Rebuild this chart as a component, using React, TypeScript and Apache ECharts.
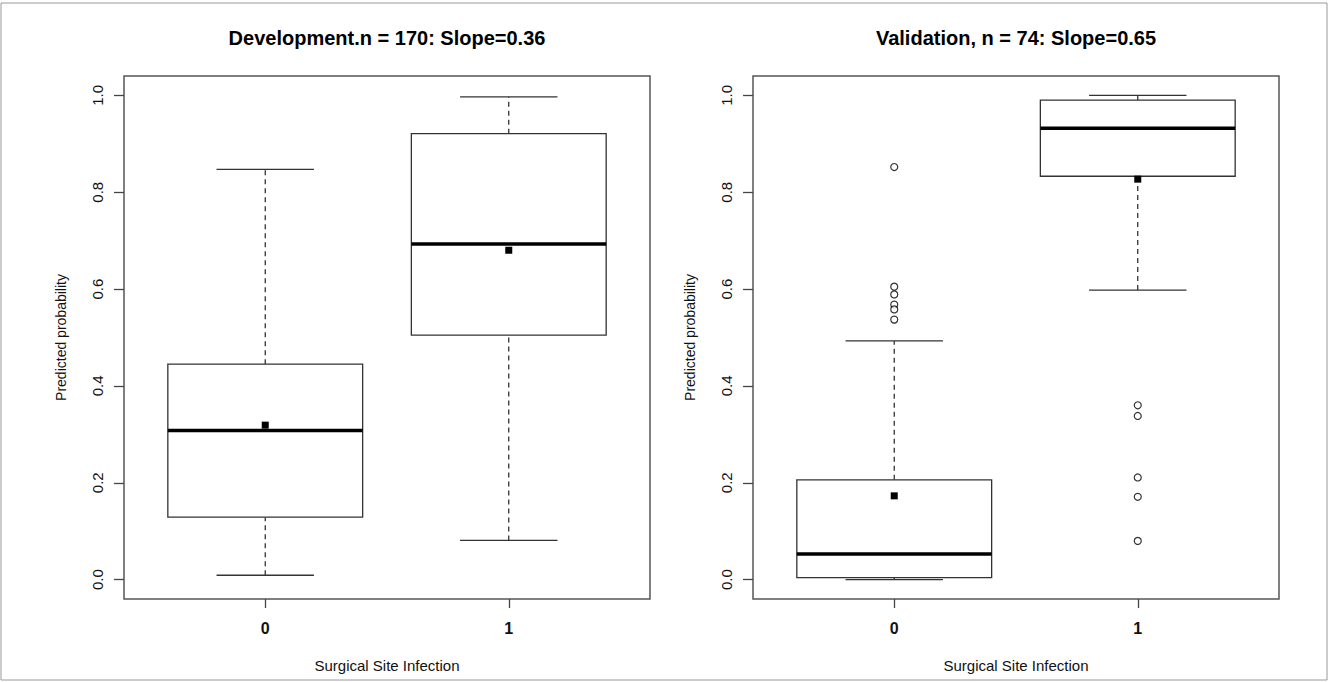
import React, { useEffect, useRef } from "react";
import * as echarts from "echarts";

// ---- Data ----
const categories = ["0", "1"];
const yTicks = [0, 0.2, 0.4, 0.6, 0.8, 1.0];

const devTitle = "Development.n = 170: Slope=0.36";
const devLowWhisker = [0.009, 0.081];
const devQ1 = [0.129, 0.505];
const devMedian = [0.308, 0.693];
const devQ3 = [0.445, 0.921];
const devHighWhisker = [0.847, 0.997];
const devMean = [0.319, 0.68];

const valTitle = "Validation, n = 74: Slope=0.65";
const valLowWhisker = [0.0, 0.598];
const valQ1 = [0.004, 0.833];
const valMedian = [0.053, 0.932];
const valQ3 = [0.206, 0.99];
const valHighWhisker = [0.493, 1.0];
const valMean = [0.173, 0.827];
const valOutliers0 = [0.852, 0.605, 0.589, 0.568, 0.558, 0.537];
const valOutliers1 = [0.36, 0.338, 0.211, 0.171, 0.08];

const xTitle = "Surgical Site Infection";
const yTitle = "Predicted probability";

const FONT = "'Liberation Sans', Arial, Helvetica, sans-serif";

function boxRows(lo: number[], q1: number[], med: number[], q3: number[], hi: number[], mean: number[]) {
  return categories.map((_, i) => [i + 1, lo[i], q1[i], med[i], q3[i], hi[i], mean[i]]);
}

function renderBox(params: any, api: any) {
  const x = api.value(0);
  const pt = (v: number) => api.coord([x, v]);
  const cx = pt(api.value(3))[0];
  const yLo = pt(api.value(1))[1];
  const yQ1 = pt(api.value(2))[1];
  const yMed = pt(api.value(3))[1];
  const yQ3 = pt(api.value(4))[1];
  const yHi = pt(api.value(5))[1];
  const yMean = pt(api.value(6))[1];
  const hw = api.size([0.4, 0])[0];
  const cw = api.size([0.2, 0])[0];
  const stroke = "#333";
  return {
    type: "group",
    children: [
      { type: "line", shape: { x1: cx, y1: yQ3, x2: cx, y2: yHi }, style: { stroke: "#222", lineWidth: 1.2, lineDash: [5, 4] } },
      { type: "line", shape: { x1: cx, y1: yLo, x2: cx, y2: yQ1 }, style: { stroke: "#222", lineWidth: 1.2, lineDash: [5, 4] } },
      { type: "line", shape: { x1: cx - cw, y1: yHi, x2: cx + cw, y2: yHi }, style: { stroke, lineWidth: 1.3 } },
      { type: "line", shape: { x1: cx - cw, y1: yLo, x2: cx + cw, y2: yLo }, style: { stroke, lineWidth: 1.3 } },
      { type: "rect", shape: { x: cx - hw, y: yQ3, width: 2 * hw, height: yQ1 - yQ3 }, style: { fill: "#fff", stroke, lineWidth: 1.3 } },
      { type: "line", shape: { x1: cx - hw, y1: yMed, x2: cx + hw, y2: yMed }, style: { stroke: "#000", lineWidth: 3.5 } },
      { type: "rect", shape: { x: cx - 3.5, y: yMean - 3.5, width: 7, height: 7 }, style: { fill: "#000" } },
    ],
  };
}

function makeX(gridIndex: number) {
  return {
    type: "value",
    gridIndex,
    min: 0.42,
    max: 2.58,
    axisLine: { show: false, onZero: false },
    splitLine: { show: false },
    axisTick: { show: true, customValues: [1, 2], length: 9, lineStyle: { color: "#444", width: 1.3 } },
    axisLabel: {
      customValues: [1, 2],
      formatter: (v: number) => categories[Math.round(v) - 1],
      fontSize: 16,
      fontWeight: "bold",
      color: "#111",
      margin: 21,
      fontFamily: FONT,
    },
    name: xTitle,
    nameLocation: "middle",
    nameGap: 59,
    nameTextStyle: { fontSize: 15, color: "#111", fontFamily: FONT },
  };
}

function makeY(gridIndex: number) {
  return {
    type: "value",
    gridIndex,
    min: -0.04,
    max: 1.04,
    axisLine: { show: false, onZero: false },
    splitLine: { show: false },
    axisTick: { show: true, customValues: yTicks, length: 10, lineStyle: { color: "#444", width: 1.3 } },
    axisLabel: {
      customValues: yTicks,
      formatter: (v: number) => v.toFixed(1),
      rotate: 90,
      fontSize: 15,
      color: "#111",
      margin: 19,
      fontFamily: FONT,
    },
    name: yTitle,
    nameLocation: "middle",
    nameRotate: 90,
    nameGap: 56,
    nameTextStyle: { fontSize: 14, color: "#111", fontFamily: FONT },
  };
}

export default function App() {
  const ref = useRef<HTMLDivElement>(null);
  useEffect(() => {
    document.body.style.margin = "0";
    if (!ref.current) return;
    const chart = echarts.init(ref.current, null, { renderer: "svg" });
    const grids = [
      { left: 124, top: 76, width: 526, height: 523 },
      { left: 753, top: 76, width: 526, height: 523 },
    ];
    chart.setOption({
      animation: false,
      backgroundColor: "#fff",
      textStyle: { fontFamily: FONT },
      title: [
        { text: devTitle, left: 387, top: 28, textAlign: "center", padding: 0, textStyle: { fontSize: 20, fontWeight: "bold", color: "#000", fontFamily: FONT } },
        { text: valTitle, left: 1016, top: 28, textAlign: "center", padding: 0, textStyle: { fontSize: 20, fontWeight: "bold", color: "#000", fontFamily: FONT } },
      ],
      grid: grids.map((g) => ({ ...g, show: true, borderColor: "#555", borderWidth: 1.5, backgroundColor: "transparent" })),
      xAxis: [makeX(0), makeX(1)],
      yAxis: [makeY(0), makeY(1)],
      graphic: [
        {
          type: "rect",
          silent: true,
          z: -10,
          shape: { x: 1, y: 3, width: 1326, height: 677 },
          style: { fill: "none", stroke: "#999", lineWidth: 1 },
        },
      ],
      series: [
        {
          type: "custom",
          xAxisIndex: 0,
          yAxisIndex: 0,
          renderItem: renderBox,
          encode: { x: 0, y: [1, 2, 3, 4, 5, 6] },
          data: boxRows(devLowWhisker, devQ1, devMedian, devQ3, devHighWhisker, devMean),
        },
        {
          type: "custom",
          xAxisIndex: 1,
          yAxisIndex: 1,
          renderItem: renderBox,
          encode: { x: 0, y: [1, 2, 3, 4, 5, 6] },
          data: boxRows(valLowWhisker, valQ1, valMedian, valQ3, valHighWhisker, valMean),
        },
        {
          type: "scatter",
          xAxisIndex: 1,
          yAxisIndex: 1,
          symbol: "circle",
          symbolSize: 7,
          itemStyle: { color: "#fff", borderColor: "#000", borderWidth: 1.2 },
          data: [
            ...valOutliers0.map((v) => [1, v]),
            ...valOutliers1.map((v) => [2, v]),
          ],
        },
      ],
    });
    return () => chart.dispose();
  }, []);
  return <div ref={ref} style={{ width: 1328, height: 682 }} />;
}
